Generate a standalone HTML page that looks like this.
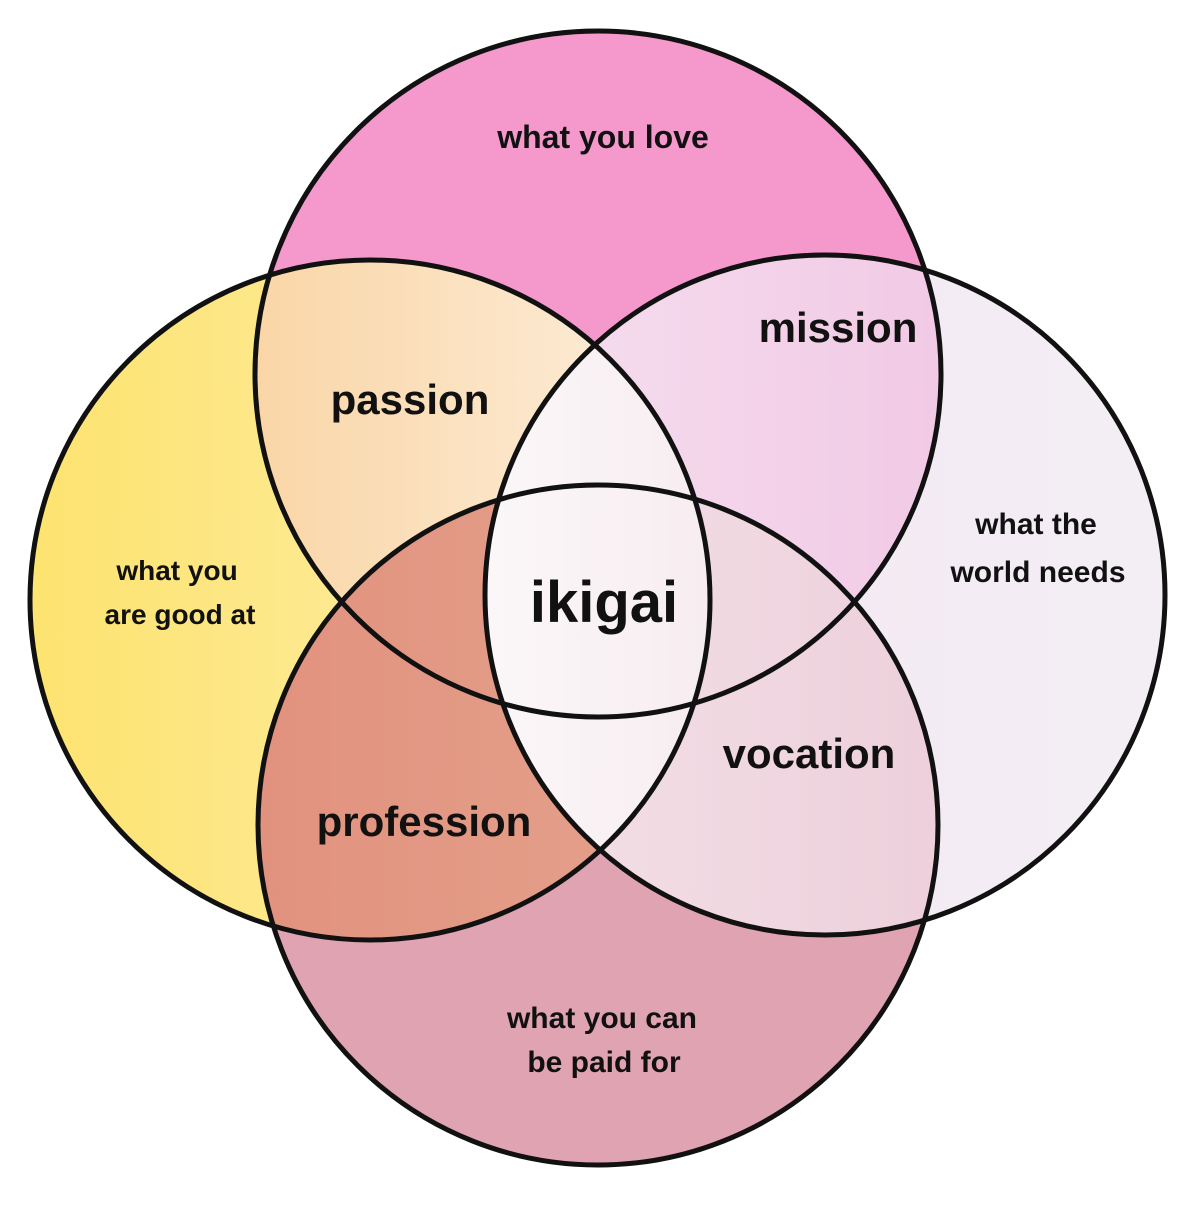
<!DOCTYPE html>
<html><head><style>
html,body{margin:0;padding:0;background:#fff;}
text{font-family:"Liberation Sans",sans-serif;fill:#111;}
</style></head><body>
<svg width="1200" height="1200" viewBox="0 0 1200 1200" xmlns="http://www.w3.org/2000/svg">
<defs>
<linearGradient id="gy" x1="0" x2="1"><stop offset="0" stop-color="#fde36f"/><stop offset="1" stop-color="#fdf0b8"/></linearGradient>
<linearGradient id="gp" x1="0" x2="1"><stop offset="0" stop-color="#f8c98a"/><stop offset="1" stop-color="#fdf0e0"/></linearGradient>
<linearGradient id="gm" x1="0" x2="1"><stop offset="0" stop-color="#f6e0f0"/><stop offset="1" stop-color="#efbfe0"/></linearGradient>
<linearGradient id="gr" x1="0" x2="1"><stop offset="0" stop-color="#f4e6f2"/><stop offset="1" stop-color="#f3eef4"/></linearGradient>
<linearGradient id="gpr" x1="0" x2="1"><stop offset="0" stop-color="#e08a78"/><stop offset="1" stop-color="#e4a28c"/></linearGradient>
<linearGradient id="gv" x1="0" x2="1"><stop offset="0" stop-color="#f4e2e8"/><stop offset="1" stop-color="#e9c6d4"/></linearGradient>
<linearGradient id="gc" x1="0" x2="1"><stop offset="0" stop-color="#fbf7f8"/><stop offset="1" stop-color="#efd8e2"/></linearGradient>
<clipPath id="cT"><circle cx="598" cy="374" r="343"/></clipPath>
<clipPath id="cL"><circle cx="370" cy="600" r="340"/></clipPath>
<clipPath id="cR"><circle cx="825" cy="595" r="340"/></clipPath>
<clipPath id="cB"><circle cx="598" cy="825" r="340"/></clipPath>
</defs>
<circle cx="598" cy="374" r="343" fill="#f598cc"/>
<circle cx="370" cy="600" r="340" fill="url(#gy)"/>
<circle cx="825" cy="595" r="340" fill="url(#gr)"/>
<circle cx="598" cy="825" r="340" fill="#e0a3b2"/>
<g clip-path="url(#cT)"><circle cx="370" cy="600" r="340" fill="url(#gp)"/></g>
<g clip-path="url(#cT)"><circle cx="825" cy="595" r="340" fill="url(#gm)"/></g>
<g clip-path="url(#cB)"><circle cx="370" cy="600" r="340" fill="url(#gpr)"/></g>
<g clip-path="url(#cB)"><circle cx="825" cy="595" r="340" fill="url(#gv)"/></g>
<g clip-path="url(#cL)"><circle cx="825" cy="595" r="340" fill="url(#gc)"/></g>
<g fill="none" stroke="#111" stroke-width="5">
<circle cx="598" cy="374" r="343"/>
<circle cx="370" cy="600" r="340"/>
<circle cx="825" cy="595" r="340"/>
<circle cx="598" cy="825" r="340"/>
</g>
<text x="603" y="148" font-size="32" text-anchor="middle" font-weight="bold">what you love</text>
<text x="838" y="342" font-size="42" text-anchor="middle" font-weight="bold">mission</text>
<text x="410" y="414" font-size="42" text-anchor="middle" font-weight="bold">passion</text>
<text x="1036" y="534" font-size="30" text-anchor="middle" font-weight="bold">what the</text>
<text x="1038" y="582" font-size="30" text-anchor="middle" font-weight="bold">world needs</text>
<text x="177" y="580" font-size="28" text-anchor="middle" font-weight="bold">what you</text>
<text x="180" y="624" font-size="28" text-anchor="middle" font-weight="bold">are good at</text>
<text x="604" y="622" font-size="58" text-anchor="middle" font-weight="bold">ikigai</text>
<text x="809" y="768" font-size="42" text-anchor="middle" font-weight="bold">vocation</text>
<text x="424" y="836" font-size="42" text-anchor="middle" font-weight="bold">profession</text>
<text x="602" y="1028" font-size="30" text-anchor="middle" font-weight="bold">what you can</text>
<text x="604" y="1072" font-size="30" text-anchor="middle" font-weight="bold">be paid for</text>
</svg>
</body></html>
